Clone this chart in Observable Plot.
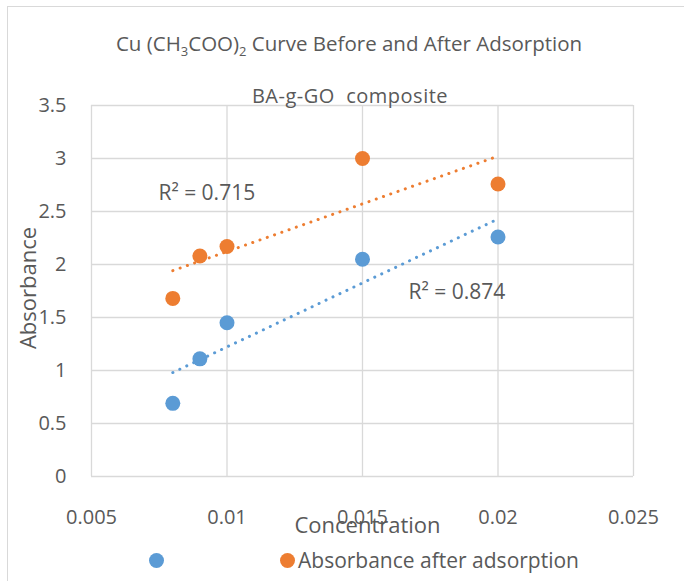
<!DOCTYPE html>
<html>
<head>
<meta charset="utf-8">
<script src="https://cdn.jsdelivr.net/npm/d3@7"></script>
<script src="https://cdn.jsdelivr.net/npm/@observablehq/plot@0.6"></script>
<style>
  html, body { margin: 0; padding: 0; background: #fff; }
  #wrap { position: relative; width: 684px; height: 581px; overflow: hidden; font-family: "Open Sans", sans-serif; color: #595959; }
  #border { position: absolute; left: 7px; top: 6px; right: -5px; bottom: -5px; border: 1.5px solid #d9d9d9; }
  .abs { position: absolute; white-space: nowrap; line-height: 1; }
  #title { left: 349px; top: 43px; transform: translate(-50%, -50%); font-size: 20.5px; }
  #title sub { font-size: 13px; vertical-align: -5px; line-height: 0; }
  #subtitle { left: 350px; top: 96px; transform: translate(-50%, -50%); font-size: 20px; letter-spacing: 0.5px; }
  #legend { left: 0; top: 560px; width: 684px; height: 0; }
  .ldot { position: absolute; width: 15px; height: 15px; border-radius: 50%; top: -7.5px; }
  .ltext { position: absolute; top: 0; transform: translateY(-50%); font-size: 21px; }
  #plot { position: absolute; left: 0; top: 0; }
</style>
</head>
<body>
<div id="wrap">
  <div id="border"></div>
  <div id="plot"></div>
  <div id="title" class="abs">Cu (CH<sub>3</sub>COO)<sub>2</sub> Curve Before and After Adsorption</div>
  <div id="subtitle" class="abs">BA-g-GO&nbsp; composite</div>
  <div id="legend" class="abs"></div>
</div>
<script>
// ---- data ----
const concentration = [0.008, 0.009, 0.01, 0.015, 0.02];
const absorbanceBefore = [0.69, 1.11, 1.45, 2.05, 2.26];
const absorbanceAfter = [1.68, 2.08, 2.17, 3.0, 2.76];
const xTicks = [0.005, 0.01, 0.015, 0.02, 0.025];
const yTicks = [0, 0.5, 1, 1.5, 2, 2.5, 3, 3.5];
const seriesNames = ["", "Absorbance after adsorption"];
const r2Labels = ["R² = 0.874", "R² = 0.715"];

const blue = "#5B9BD5", orange = "#ED7D31", grey = "#595959";

const before = concentration.map((c, i) => ({x: c, y: absorbanceBefore[i]}));
const after = concentration.map((c, i) => ({x: c, y: absorbanceAfter[i]}));

const trendStyle = {strokeWidth: 3, strokeLinecap: "round", strokeDasharray: "0.1,7.6", ci: 0};

const chart = Plot.plot({
  width: 684,
  height: 581,
  marginLeft: 91,
  marginRight: 51,
  marginTop: 105,
  marginBottom: 105,
  style: {fontFamily: "Open Sans, sans-serif", color: grey, background: "transparent"},
  x: {domain: [0.005, 0.025]},
  y: {domain: [0, 3.5]},
  marks: [
    Plot.gridX(xTicks, {stroke: "#d9d9d9", strokeOpacity: 1, strokeWidth: 1.3}),
    Plot.gridY(yTicks, {stroke: "#d9d9d9", strokeOpacity: 1, strokeWidth: 1.3}),
    Plot.axisX({ticks: xTicks, tickSize: 0, tickPadding: 33, fontSize: 20, tickFormat: d => String(+d.toFixed(3)), label: null}),
    Plot.axisY({ticks: yTicks, tickSize: 0, tickPadding: 25, fontSize: 20, tickFormat: d => String(d), label: null}),
    Plot.linearRegressionY(before, {x: "x", y: "y", stroke: blue, ...trendStyle}),
    Plot.linearRegressionY(after, {x: "x", y: "y", stroke: orange, ...trendStyle}),
    Plot.dot(before, {x: "x", y: "y", r: 7.5, fill: blue}),
    Plot.dot(after, {x: "x", y: "y", r: 7.5, fill: orange}),
    Plot.text([r2Labels[1]], {x: 0.00747, y: 2.67, text: d => d, textAnchor: "start", fontSize: 21, fill: grey}),
    Plot.text([r2Labels[0]], {x: 0.0167, y: 1.74, text: d => d, textAnchor: "start", fontSize: 21, fill: grey}),
    Plot.text(["Concentration"], {frameAnchor: "bottom", dy: 56, text: d => d, fontSize: 22, fill: grey, dx: 5}),
    Plot.text(["Absorbance"], {frameAnchor: "left", textAnchor: "middle", dx: -63, dy: -3, rotate: -90, text: d => d, fontSize: 22, fill: grey})
  ]
});
document.getElementById("plot").appendChild(chart);

// legend
const legend = document.getElementById("legend");
const legendItems = [
  {color: blue, dotX: 156, textX: 166, name: seriesNames[0]},
  {color: orange, dotX: 287, textX: 298, name: seriesNames[1]}
];
for (const it of legendItems) {
  const dot = document.createElement("div");
  dot.className = "ldot";
  dot.style.left = (it.dotX - 7.5) + "px";
  dot.style.background = it.color;
  legend.appendChild(dot);
  if (it.name) {
    const t = document.createElement("div");
    t.className = "ltext";
    t.style.left = it.textX + "px";
    t.textContent = it.name;
    legend.appendChild(t);
  }
}
</script>
</body>
</html>
